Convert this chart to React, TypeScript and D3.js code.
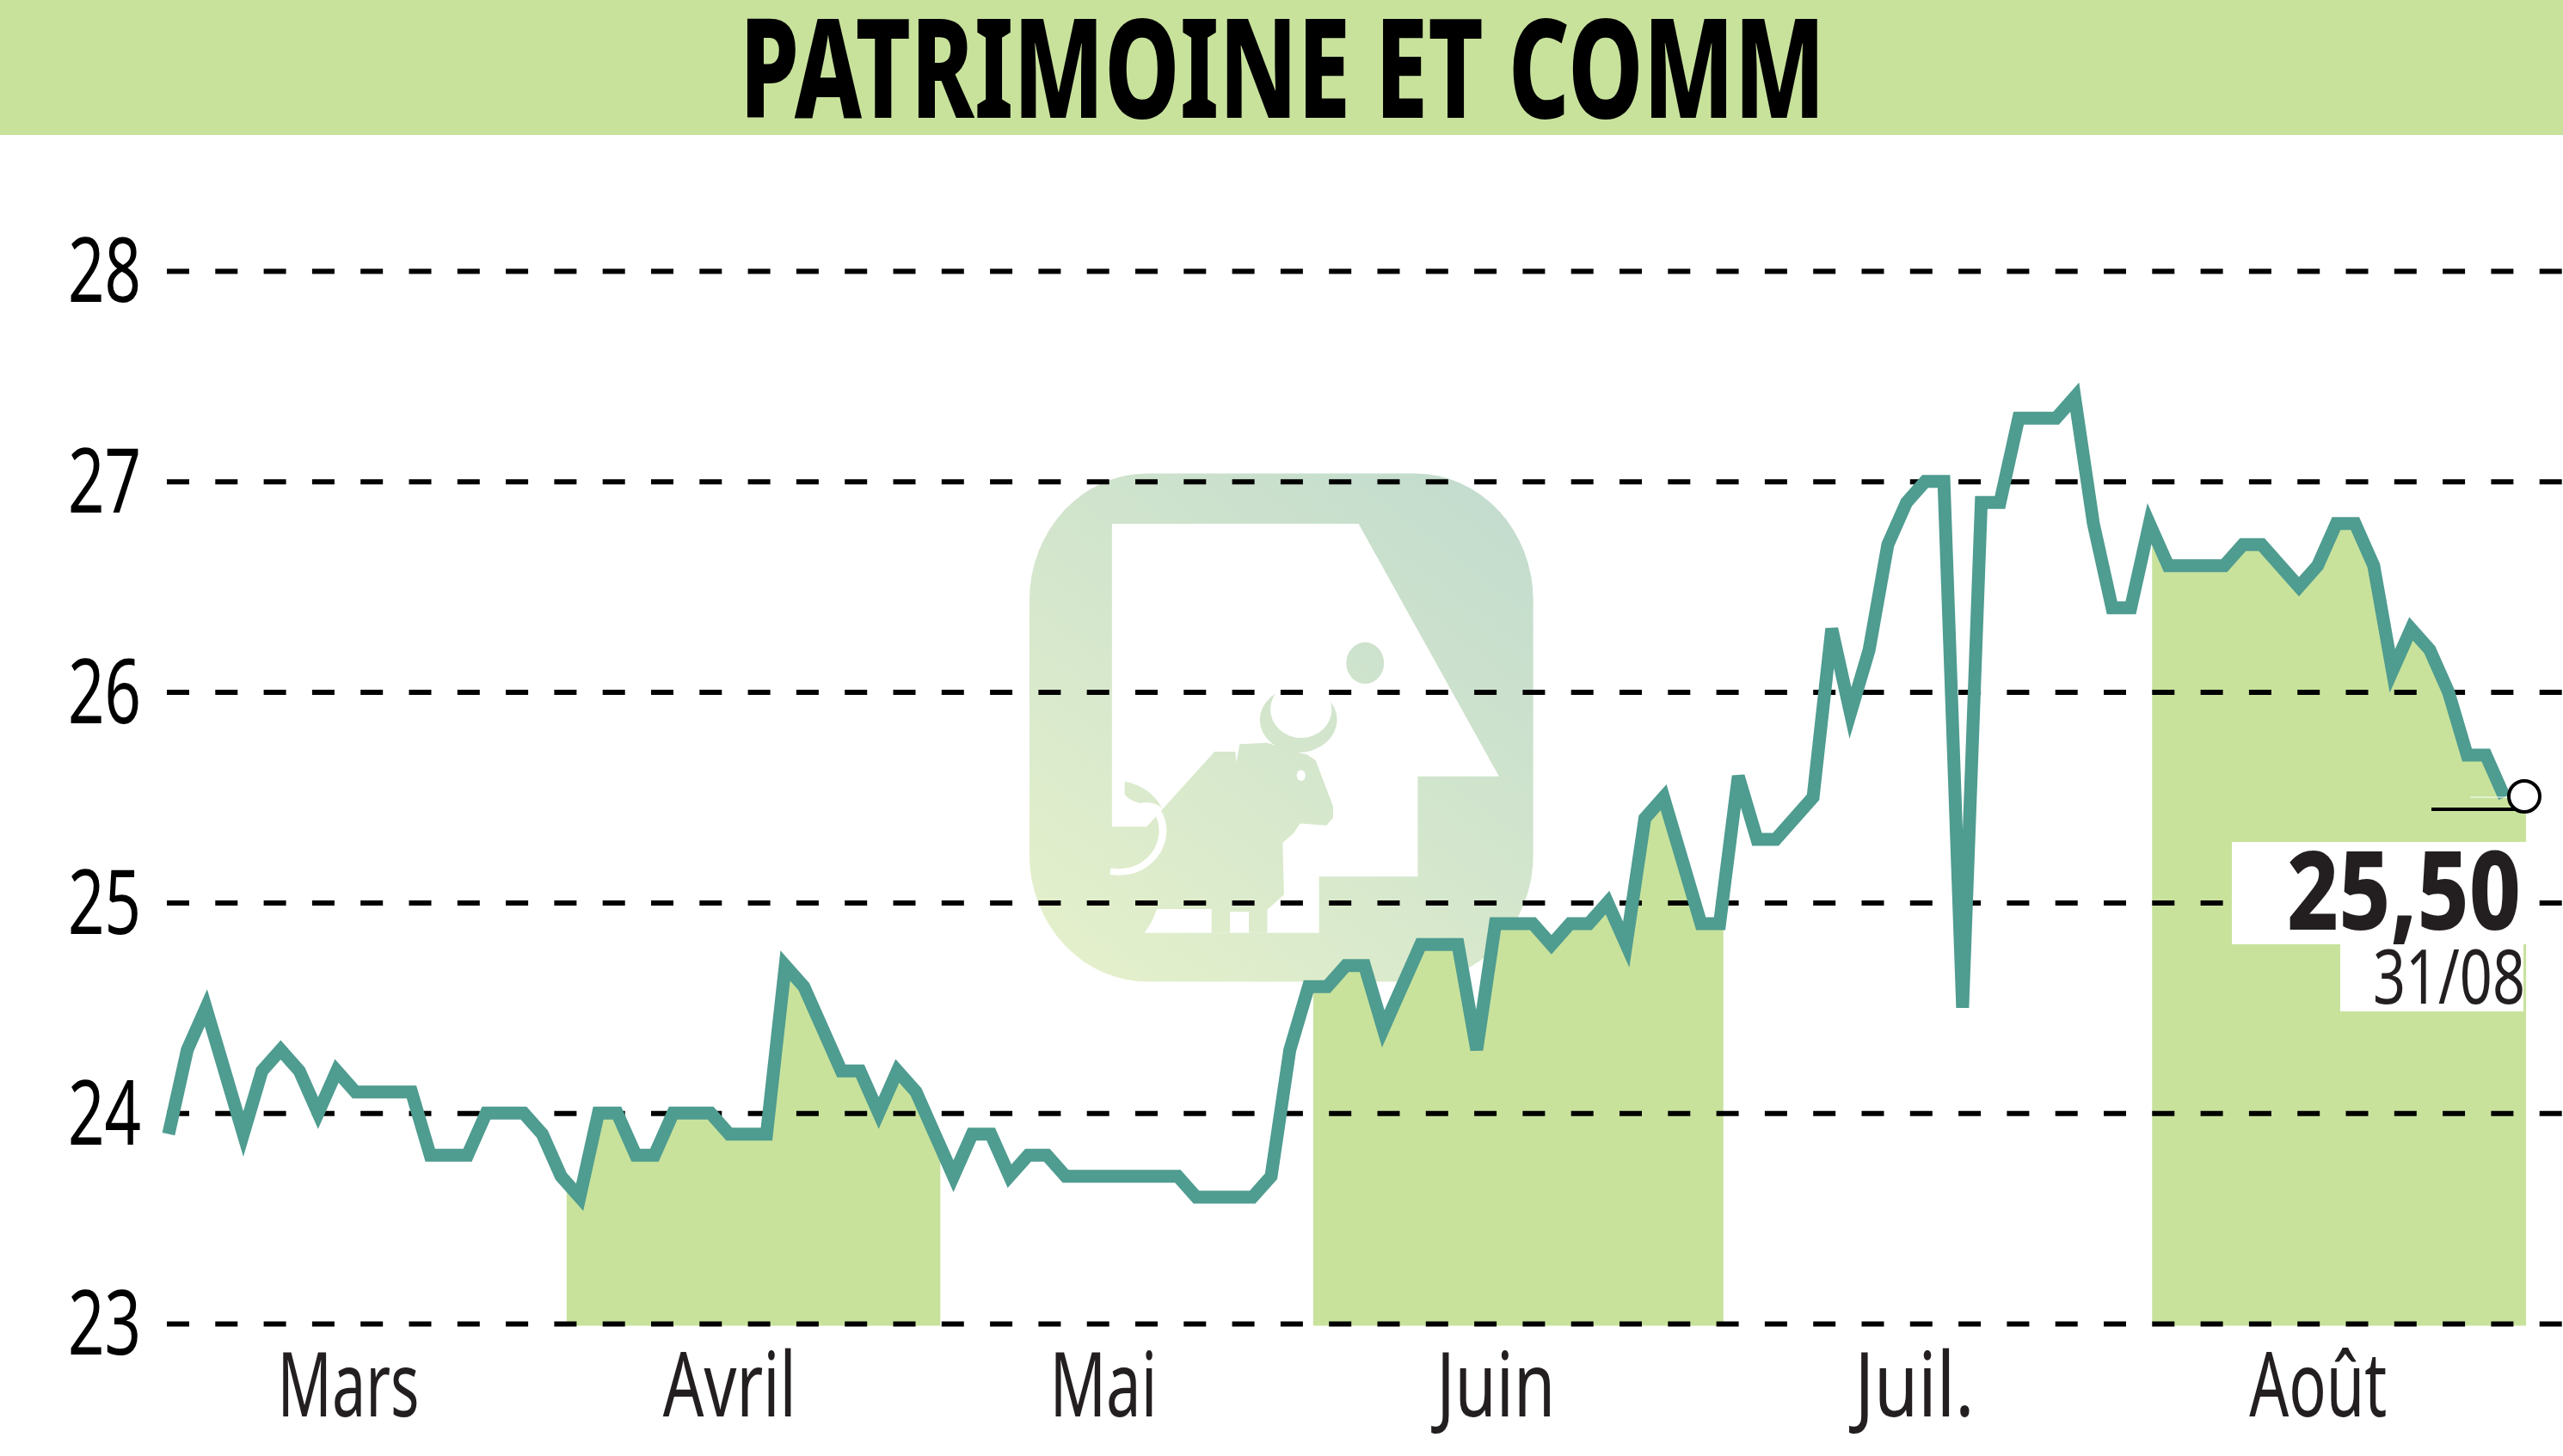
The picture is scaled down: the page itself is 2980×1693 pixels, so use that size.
import { useEffect, useRef } from "react";
import * as d3 from "d3";

const titleText = "PATRIMOINE ET COMM";
const lastValueText = "25,50";
const lastDateText = "31/08";

const prices = [
  23.9, 24.3, 24.5, 24.2, 23.9, 24.2, 24.3, 24.2, 24.0, 24.2, 24.1, 24.1, 24.1, 24.1, 23.8, 23.8, 23.8, 24.0, 24.0, 24.0, 23.9,
  23.7, 23.6, 24.0, 24.0, 23.8, 23.8, 24.0, 24.0, 24.0, 23.9, 23.9, 23.9, 24.7, 24.6, 24.4, 24.2, 24.2, 24.0, 24.2, 24.1, 23.9,
  23.7, 23.9, 23.9, 23.7, 23.8, 23.8, 23.7, 23.7, 23.7, 23.7, 23.7, 23.7, 23.7, 23.6, 23.6, 23.6, 23.6, 23.7, 24.3, 24.6,
  24.6, 24.7, 24.7, 24.4, 24.6, 24.8, 24.8, 24.8, 24.3, 24.9, 24.9, 24.9, 24.8, 24.9, 24.9, 25.0, 24.8, 25.4, 25.5, 25.2, 24.9, 24.9,
  25.6, 25.3, 25.3, 25.4, 25.5, 26.3, 25.9, 26.2, 26.7, 26.9, 27.0, 27.0, 24.5, 26.9, 26.9, 27.3, 27.3, 27.3, 27.4, 26.8, 26.4, 26.4,
  26.8, 26.6, 26.6, 26.6, 26.6, 26.7, 26.7, 26.6, 26.5, 26.6, 26.8, 26.8, 26.6, 26.1, 26.3, 26.2, 26.0, 25.7, 25.7, 25.5,
];

const yTicks = [23, 24, 25, 26, 27, 28];
const months = ["Mars", "Avril", "Mai", "Juin", "Juil.", "Août"];
// position des libellés, en rang de séance
const monthCenters = [9.6, 30.0, 50, 71, 93.4, 115];
// mois surlignés : début et fin en rang de séance
const shadedMonths = [
  [21.3, 41.3],
  [61.25, 83.2],
  [106.14, 126.16],
];

const GREEN = "#c8e29c";
const TEAL = "#4f9c90";
const INK = "#231f20";
const FONT = "'Noto Sans', sans-serif";

const App = () => {
  const svgRef = useRef<SVGSVGElement | null>(null);

  useEffect(() => {
    if (!svgRef.current) return;
    const svg = d3.select(svgRef.current);
    svg.selectAll("*").remove();

    const xScale = d3.scaleLinear().domain([0, prices.length - 1]).range([196, 2912]);
    const yScale = d3.scaleLinear().domain([23, 28]).range([1539, 315]);

    // bandeau du titre
    svg.append("rect").attr("width", 2980).attr("height", 157).attr("fill", GREEN);
    svg
      .append("text")
      .attr("x", 860)
      .attr("y", 137)
      .attr("font-family", FONT)
      .attr("font-weight", 800)
      .attr("font-size", 160)
      .attr("textLength", 1262)
      .attr("lengthAdjust", "spacingAndGlyphs")
      .attr("fill", "#000")
      .text(titleText);

    // filigrane, tracé dans le repère du recadrage
    const defs = svg.append("defs");
    const grad = defs
      .append("linearGradient")
      .attr("id", "wmGrad")
      .attr("gradientUnits", "userSpaceOnUse")
      .attr("x1", 288)
      .attr("y1", 1437)
      .attr("x2", 1436)
      .attr("y2", 113);
    grad.append("stop").attr("offset", 0).attr("stop-color", "#e6f1cb");
    grad.append("stop").attr("offset", 1).attr("stop-color", "#c1dbce");

    const wm = svg.append("g").attr("transform", "translate(1050,500) scale(0.5102,0.4464)");
    wm.append("rect")
      .attr("x", 288)
      .attr("y", 113)
      .attr("width", 1148)
      .attr("height", 1324)
      .attr("rx", 270)
      .attr("ry", 330)
      .attr("fill", "url(#wmGrad)");
    wm.append("path")
      .attr("d", "M476,244 L1038,244 L1358,902 L1173,902 L1173,1163 L948,1163 L948,1310 L550,1310 Q570,1280 578,1248 L640,1100 L555,1033 L476,1033 Z")
      .attr("fill", "#fff");
    wm.append("ellipse").attr("cx", 1053).attr("cy", 607).attr("rx", 43).attr("ry", 54).attr("fill", "url(#wmGrad)");
    wm.append("ellipse").attr("cx", 901).attr("cy", 755).attr("rx", 88).attr("ry", 85).attr("fill", "url(#wmGrad)");
    wm.append("ellipse").attr("cx", 907).attr("cy", 728).attr("rx", 70).attr("ry", 74).attr("fill", "#fff");
    wm.append("path")
      .attr(
        "d",
        "M555,1033 L710,838 L757,838 L760,865 L767,818 L830,815 L880,835 L920,845 L940,860 L980,980 L980,1010 L965,1030 L905,1025 L890,1050 L865,1075 L868,1210 L830,1250 L830,1310 L788,1310 L788,1255 L745,1255 L745,1310 L703,1310 L703,1248 L578,1248 L590,1120 Z"
      )
      .attr("fill", "url(#wmGrad)");
    wm.append("path")
      .attr("d", "M505,915 Q565,930 590,985 Q570,965 540,972 Q515,965 505,950 Z")
      .attr("fill", "url(#wmGrad)");
    wm.append("path")
      .attr("d", "M472,1150 Q545,1160 580,1095 Q605,1040 578,990")
      .attr("fill", "none")
      .attr("stroke", "#fff")
      .attr("stroke-width", 17);
    wm.append("ellipse").attr("cx", 907).attr("cy", 900).attr("rx", 10).attr("ry", 14).attr("fill", "#fff");

    // mois surlignés sous la courbe
    const clip = defs.append("clipPath").attr("id", "monthClip");
    clip
      .selectAll("rect")
      .data(shadedMonths)
      .enter()
      .append("rect")
      .attr("x", (d) => xScale(d[0]))
      .attr("y", 0)
      .attr("width", (d) => xScale(d[1]) - xScale(d[0]))
      .attr("height", 1693);

    const areaData: Array<[number, number]> = prices.map((p, i) => [i, p]);
    areaData.push([126.16, prices[prices.length - 1]]);
    const area = d3
      .area<[number, number]>()
      .x((d) => xScale(d[0]))
      .y0(yScale(23) + 2.5)
      .y1((d) => yScale(d[1]));
    svg.append("path").datum(areaData).attr("clip-path", "url(#monthClip)").attr("fill", GREEN).attr("d", area);

    // axe Y et grille pointillée
    const yAxis = svg
      .append("g")
      .attr("transform", "translate(194,0)")
      .call(d3.axisLeft(yScale).tickValues(yTicks).tickFormat(d3.format("d")).tickSize(-2786).tickPadding(30));
    yAxis.select(".domain").remove();
    yAxis.selectAll(".tick line").attr("stroke", "#000").attr("stroke-width", 6).attr("stroke-dasharray", "26 30.3");
    yAxis
      .selectAll("text")
      .attr("font-family", FONT)
      .attr("font-size", 104)
      .attr("fill", "#000")
      .attr("dy", "0.346em")
      .attr("textLength", 85)
      .attr("lengthAdjust", "spacingAndGlyphs");

    // axe X : les mois
    const monthWidths = [165, 155, 125, 138, 139, 160];
    const xAxis = svg
      .append("g")
      .attr("transform", "translate(0,1539)")
      .call(
        d3
          .axisBottom(xScale)
          .tickValues(monthCenters)
          .tickFormat((_, i) => months[i])
          .tickSize(0)
      );
    xAxis.select(".domain").remove();
    xAxis
      .selectAll("text")
      .attr("font-family", FONT)
      .attr("font-size", 104)
      .attr("fill", INK)
      .attr("y", 108)
      .attr("dy", 0)
      .attr("textLength", (_, i) => monthWidths[i])
      .attr("lengthAdjust", "spacingAndGlyphs");

    // courbe
    const line = d3
      .line<number>()
      .x((_, i) => xScale(i))
      .y((d) => yScale(d));
    svg
      .append("path")
      .datum(prices)
      .attr("fill", "none")
      .attr("stroke", TEAL)
      .attr("stroke-width", 15)
      .attr("stroke-linejoin", "miter")
      .attr("d", line);

    // dernier cours
    const lastY = yScale(prices[prices.length - 1]);
    svg.append("line").attr("x1", 2872).attr("x2", 2918).attr("y1", lastY).attr("y2", lastY).attr("stroke", "#fff").attr("stroke-width", 1);
    svg.append("line").attr("x1", 2827).attr("x2", 2932).attr("y1", lastY + 14).attr("y2", lastY + 14).attr("stroke", "#000").attr("stroke-width", 4);
    svg.append("circle").attr("cx", 2935).attr("cy", lastY - 1).attr("r", 18).attr("fill", "#fff").attr("stroke", "#000").attr("stroke-width", 4);

    svg.append("rect").attr("x", 2595).attr("y", 979).attr("width", 343).attr("height", 119).attr("fill", "#fff");
    svg.append("rect").attr("x", 2721).attr("y", 1098).attr("width", 213).attr("height", 78).attr("fill", "#fff");
    svg
      .append("text")
      .attr("x", 2659)
      .attr("y", 1081)
      .attr("font-family", FONT)
      .attr("font-weight", 800)
      .attr("font-size", 127)
      .attr("textLength", 272)
      .attr("lengthAdjust", "spacingAndGlyphs")
      .attr("fill", INK)
      .text(lastValueText);
    svg
      .append("text")
      .attr("x", 2759)
      .attr("y", 1167)
      .attr("font-family", FONT)
      .attr("font-size", 88)
      .attr("textLength", 177)
      .attr("lengthAdjust", "spacingAndGlyphs")
      .attr("fill", INK)
      .text(lastDateText);
  }, []);

  return (
    <svg
      ref={svgRef}
      width={2980}
      height={1693}
      style={{ position: "absolute", left: 0, top: 0, display: "block", background: "#fff" }}
    ></svg>
  );
};

export default App;
